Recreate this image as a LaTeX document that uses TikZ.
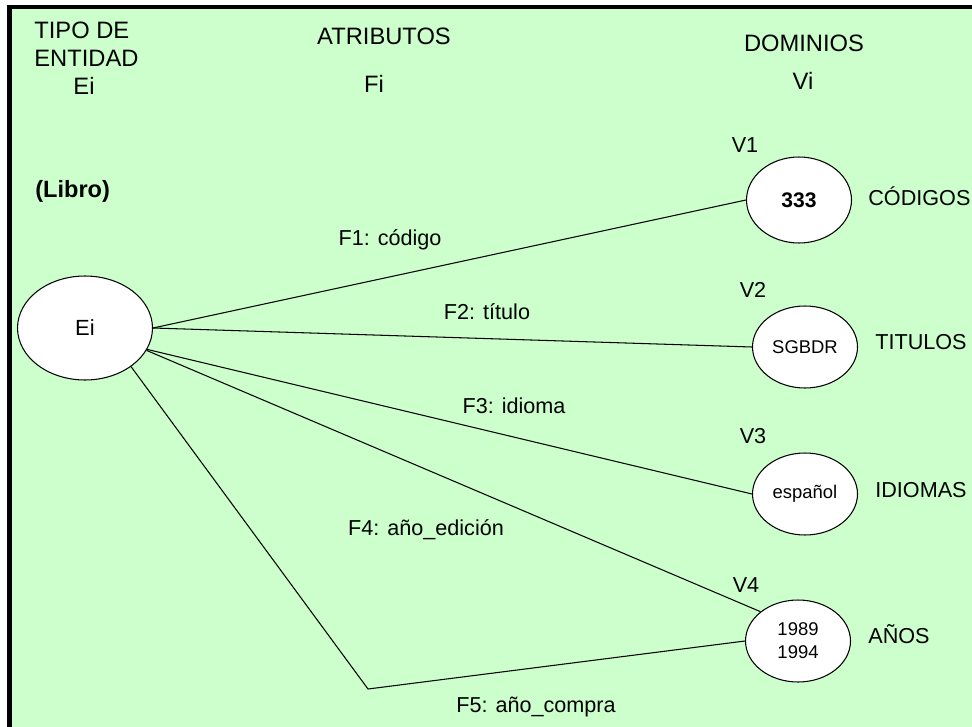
\documentclass[tikz,border=0pt]{standalone}
\usepackage{fontspec}
\setmainfont{Liberation Sans}
\usetikzlibrary{positioning, shapes.geometric}
\definecolor{panelgreen}{HTML}{CCFFCC}

\begin{document}
\begin{tikzpicture}[
  x=0.02cm, y=-0.02cm,
  txt/.style={inner sep=0pt, anchor=base, font=\fontsize{12.3}{14.8}\selectfont},
  head/.style={txt, font=\fontsize{13.5}{16.4}\selectfont},
  small/.style={font=\fontsize{10.5}{13.2}\selectfont},
  entity/.style={draw, ellipse, fill=white, line width=0.6pt, inner sep=0pt,
                 minimum width=2.7cm, minimum height=2.08cm,
                 font=\fontsize{12.5}{15}\selectfont},
  valset/.style={draw, ellipse, fill=white, line width=0.6pt, inner sep=0pt,
                 minimum width=2.1cm, minimum height=1.64cm,
                 font=\fontsize{12}{14}\selectfont},
  link/.style={line width=0.6pt},
]
  \useasboundingbox (0,0) rectangle (972,726);
  \clip (0,0) rectangle (972,726);
  % Panel
  \draw[line width=2.4pt, fill=panelgreen] (9.5,7) rectangle (1000,760);

  % Column headings
  \node[head, anchor=base west, align=left] (tipo) at (34,67) {TIPO DE\\ENTIDAD};
  \node[head] (eihead) at (84,95) {Ei};
  \node[head] (atrib) at (384,45) {ATRIBUTOS};
  \node[head] (fihead) at (374,93) {Fi};
  \node[head] (dom) at (804,52) {DOMINIOS};
  \node[head] (vihead) at (803,90) {Vi};
  \node[head, anchor=base west, font=\fontsize{13.4}{16}\selectfont\bfseries]
    (libro) at (35,197) {(Libro)};

  % Entity and value sets
  \node[entity] (ei) at (85,328) {Ei};
  \node[valset, minimum height=1.72cm, font=\fontsize{12}{14}\selectfont\bfseries]
    (v1) at (799,200) {333};
  \node[valset, small] (v2) at (805,347) {SGBDR};
  \node[valset, small] (v3) at (805,494) {español};
  \node[valset, small, align=center] (v4) at (798,641) {1989\\1994};

  % Value set names
  \node[txt] (v1lab) at (745,153) {V1};
  \node[txt] (v2lab) at (753,297) {V2};
  \node[txt] (v3lab) at (753,443) {V3};
  \node[txt] (v4lab) at (746,592) {V4};
  \node[txt, anchor=base west] (codigos) at (868,205) {CÓDIGOS};
  \node[txt, anchor=base west] (titulos) at (875,349) {TITULOS};
  \node[txt, anchor=base west] (idiomas) at (875,497) {IDIOMAS};
  \node[txt, anchor=base west] (anios) at (868,643) {AÑOS};

  % Attribute links
  \coordinate (bend) at (368,689);
  \draw[link] (ei.east) -- (v1.west);
  \draw[link] (ei.east) -- (v2.west);
  \draw[link] (ei.-19) -- (v3.west);
  \draw[link] (ei.-20.5) -- (v4.142);
  \draw[link] (ei.-40) -- (bend) -- (v4.west);

  % Attribute labels
  \node[txt] (f1) at (390,245) {F1: código};
  \node[txt] (f2) at (487,319) {F2: título};
  \node[txt] (f3) at (514,413) {F3: idioma};
  \node[txt] (f4) at (426,535) {F4: año\_edición};
  \node[txt] (f5) at (536,712) {F5: año\_compra};
\end{tikzpicture}
\end{document}
